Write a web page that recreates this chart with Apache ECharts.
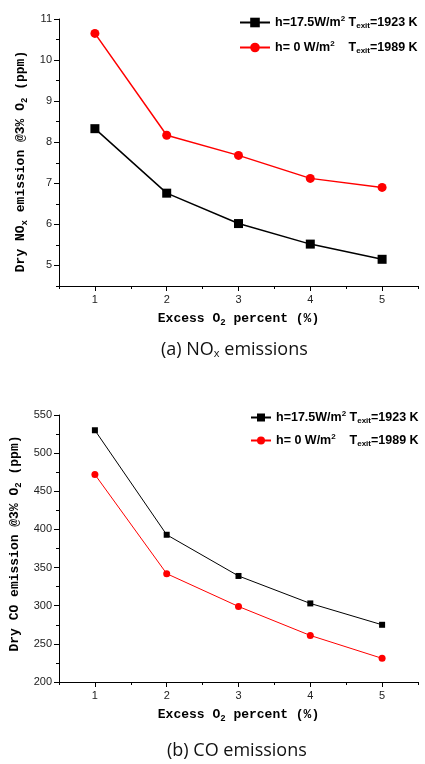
<!DOCTYPE html>
<html lang="en">
<head>
    <meta charset="utf-8"/>
    <title>NOx and CO emissions</title>
    <script src="https://cdn.jsdelivr.net/npm/echarts@6/dist/echarts.min.js"></script>
    <style>
        html, body { margin: 0; padding: 0; background: #fff; }
        #main { width: 425px; height: 764px; }
    </style>
</head>
<body>
<div id="main"></div>
<script>
    // excess O2 percent
    var xVals = [1, 2, 3, 4, 5];
    var xTicks = [1, 2, 3, 4, 5];
    // (a) NOx, ppm
    var noxHeated = [8.33, 6.76, 6.02, 5.52, 5.15];
    var noxAdiabatic = [10.65, 8.17, 7.68, 7.12, 6.90];
    var noxTicks = [5, 6, 7, 8, 9, 10, 11];
    // (b) CO, ppm
    var coHeated = [530, 393, 339, 303, 275];
    var coAdiabatic = [472, 342, 299, 261, 231];
    var coTicks = [200, 250, 300, 350, 400, 450, 500, 550];

    var legendText = {
        a1: '{t|h=17.5W/m}{sup|2}{t| T}{sub|exit}{t|=1923 K}',
        a2: '{t|h= 0 W/m}{sup|2}{t|    T}{sub|exit}{t|=1989 K}'
    };
    legendText.b1 = legendText.a1;
    legendText.b2 = legendText.a2;

    function pts(arr) {
        return xVals.map(function (x, i) { return [x, arr[i]]; });
    }

    var monoName = {
        fontFamily: 'Liberation Mono',
        fontWeight: 'bold',
        fontSize: 13,
        color: '#000'
    };
    var nameRich = {
        sub: { fontFamily: 'Liberation Mono', fontWeight: 'bold', fontSize: 9, padding: [7, 0, 0, 0], color: '#000' }
    };
    var legendRich = {
        t: { fontFamily: 'Liberation Sans', fontWeight: 'bold', fontSize: 12.5, color: '#000' },
        sup: { fontFamily: 'Liberation Sans', fontWeight: 'bold', fontSize: 8, padding: [0, 0, 7, 0], color: '#000' },
        sub: { fontFamily: 'Liberation Sans', fontWeight: 'bold', fontSize: 8, padding: [7, 0, 0, 0], color: '#000' }
    };

    function xMain(grid) {
        return {
            gridIndex: grid, type: 'value', min: 0.5, max: 5.5, interval: 0.5,
            name: 'Excess O{sub|2} percent (%)', nameLocation: 'middle', nameGap: 25,
            nameTextStyle: Object.assign({ rich: nameRich }, monoName),
            axisLine: { lineStyle: { color: '#000', width: 1 } },
            axisTick: { customValues: xTicks, length: 5, lineStyle: { color: '#000' } },
            axisLabel: { customValues: xTicks, margin: 8, color: '#222', fontSize: 11, fontFamily: 'Liberation Sans' },
            splitLine: { show: false }
        };
    }
    function xMinor(grid) {
        return {
            gridIndex: grid, type: 'value', min: 0.5, max: 5.5, interval: 0.5, position: 'bottom',
            axisLine: { show: false },
            axisTick: { length: 3, lineStyle: { color: '#000' } },
            axisLabel: { show: false },
            splitLine: { show: false }
        };
    }
    function yMain(grid, min, max, step, ticks, name, namePad) {
        return {
            gridIndex: grid, type: 'value', min: min, max: max, interval: step,
            name: name, nameLocation: 'middle', nameGap: 25, nameRotate: 90,
            nameTextStyle: Object.assign({ rich: nameRich, padding: namePad }, monoName),
            axisLine: { show: true, lineStyle: { color: '#000', width: 1 } },
            axisTick: { show: true, customValues: ticks, length: 5, lineStyle: { color: '#000' } },
            axisLabel: { customValues: ticks, margin: 7, color: '#222', fontSize: 11, fontFamily: 'Liberation Sans' },
            splitLine: { show: false }
        };
    }
    function yMinor(grid, min, max, step) {
        return {
            gridIndex: grid, type: 'value', min: min, max: max, interval: step, position: 'left',
            axisLine: { show: false },
            axisTick: { show: true, length: 3, lineStyle: { color: '#000' } },
            axisLabel: { show: false },
            splitLine: { show: false }
        };
    }

    var chart = echarts.init(document.getElementById('main'));
    var option = {
        backgroundColor: '#fff',
        animation: false,
        title: [
            {
                text: '(a) NO{s|x} emissions', left: 156, top: 336,
                textStyle: { fontFamily: 'Open Sans', fontWeight: 'normal', fontSize: 18, color: '#111',
                    rich: { s: { fontFamily: 'Open Sans', fontSize: 11, padding: [7, 0, 0, 0], color: '#111' } } }
            },
            {
                text: '(b) CO emissions', left: 162, top: 737,
                textStyle: { fontFamily: 'Open Sans', fontWeight: 'normal', fontSize: 18, color: '#111' }
            }
        ],
        legend: [
            {
                data: ['a1', 'a2'], orient: 'vertical', left: 234, top: 10,
                itemWidth: 30, itemHeight: 12, itemGap: 10,
                formatter: function (n) { return legendText[n]; },
                textStyle: { rich: legendRich }
            },
            {
                data: ['b1', 'b2'], orient: 'vertical', left: 245, top: 405,
                itemWidth: 20, itemHeight: 10, itemGap: 8,
                formatter: function (n) { return legendText[n]; },
                textStyle: { rich: legendRich }
            }
        ],
        grid: [
            { left: 59, right: 7, top: 19, height: 267 },
            { left: 59, right: 7, top: 415, height: 267 }
        ],
        xAxis: [xMain(0), xMinor(0), xMain(1), xMinor(1)],
        yAxis: [
            yMain(0, 4.5, 11, 0.5, noxTicks, 'Dry NO{sub|x} emission @3% O{sub|2} (ppm)', [0, 18, 0, 0]),
            yMinor(0, 4.5, 11, 0.5),
            yMain(1, 200, 550, 25, coTicks, 'Dry CO emission @3% O{sub|2} (ppm)', [0, 0, 0, 10]),
            yMinor(1, 200, 550, 25)
        ],
        series: [
            {
                name: 'a1', type: 'line', xAxisIndex: 0, yAxisIndex: 0, data: pts(noxHeated),
                symbol: 'rect', symbolSize: 9, color: '#000',
                lineStyle: { color: '#000', width: 1.5 }, itemStyle: { color: '#000' }
            },
            {
                name: 'a2', type: 'line', xAxisIndex: 0, yAxisIndex: 0, data: pts(noxAdiabatic),
                symbol: 'circle', symbolSize: 9, color: '#ff0000',
                lineStyle: { color: '#ff0000', width: 1.5 }, itemStyle: { color: '#ff0000' }
            },
            {
                name: 'b1', type: 'line', xAxisIndex: 2, yAxisIndex: 2, data: pts(coHeated),
                symbol: 'rect', symbolSize: 6, color: '#000',
                lineStyle: { color: '#000', width: 1 }, itemStyle: { color: '#000' }
            },
            {
                name: 'b2', type: 'line', xAxisIndex: 2, yAxisIndex: 2, data: pts(coAdiabatic),
                symbol: 'circle', symbolSize: 7, color: '#ff0000',
                lineStyle: { color: '#ff0000', width: 1 }, itemStyle: { color: '#ff0000' }
            }
        ]
    };
    chart.setOption(option);
</script>
</body>
</html>
